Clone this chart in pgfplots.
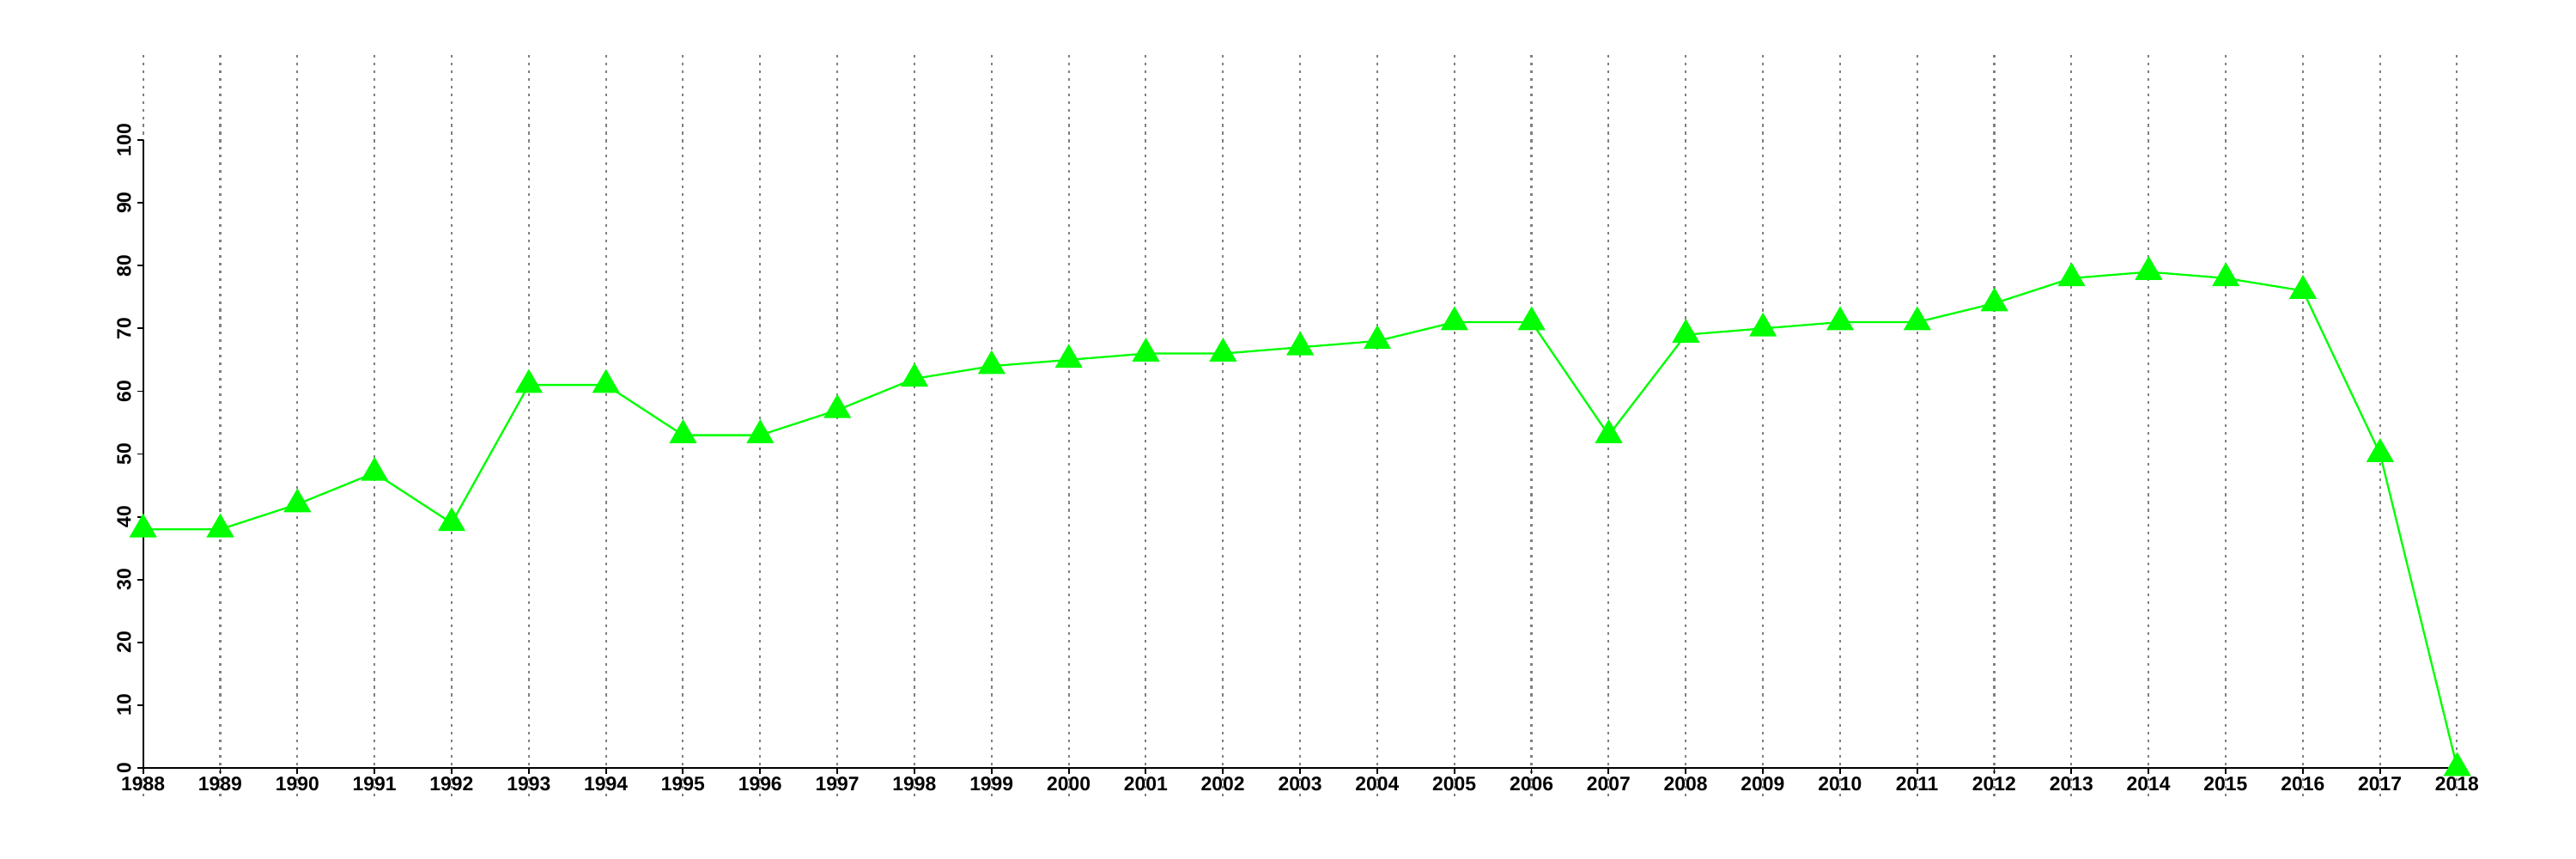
\documentclass[border=0pt]{standalone}
\usepackage{pgfplots}
\pgfplotsset{compat=1.18}
\usepackage{fontspec}
\setmainfont{Liberation Sans}
\definecolor{rgreen}{RGB}{0,255,0}
\definecolor{gridgray}{RGB}{128,128,128}
\begin{document}
\begin{tikzpicture}
\useasboundingbox (0,0) rectangle (720pt,240pt);
\begin{axis}[
  at={(40pt,17.52pt)}, anchor=south west,
  scale only axis, width=646.8pt, height=208.3pt,
  xmin=1988, xmax=2018, ymin=-4.51, ymax=114.23,
  axis x line*=middle, axis y line*=left,
  hide obscured x ticks=false, hide obscured y ticks=false,
  x axis line style={black, line width=0.45pt, -},
  y axis line style={draw=none},
  xtick={1988,1989,...,2018}, ytick={0,10,...,100},
  tick align=outside, major tick length=1.7pt,
  tick style={black, line width=0.45pt},
  xmajorgrids=true, ymajorgrids=false,
  major grid style={gridgray, line width=0.5pt, dash pattern=on 0.75pt off 1.4pt},
  /pgf/number format/assume math mode=true,
  /pgf/number format/1000 sep={},
  ticklabel style={font=\fontsize{5.5}{6}\selectfont\bfseries},
  xticklabel style={anchor=north, inner sep=0.6pt},
  yticklabel style={rotate=90, anchor=south, inner sep=1.5pt},
  clip=false,
]
\draw[black, line width=0.45pt] (axis cs:1988,0) -- (axis cs:1988,100);
\addplot[rgreen, line width=0.55pt, mark=triangle*, mark size=3.9pt,
  mark options={fill=rgreen, draw=none}] coordinates {
(1988,38) (1989,38) (1990,42) (1991,47) (1992,39) (1993,61) (1994,61)
(1995,53) (1996,53) (1997,57) (1998,62) (1999,64) (2000,65) (2001,66)
(2002,66) (2003,67) (2004,68) (2005,71) (2006,71) (2007,53) (2008,69)
(2009,70) (2010,71) (2011,71) (2012,74) (2013,78) (2014,79) (2015,78)
(2016,76) (2017,50) (2018,0)
};
\end{axis}
\end{tikzpicture}
\end{document}
